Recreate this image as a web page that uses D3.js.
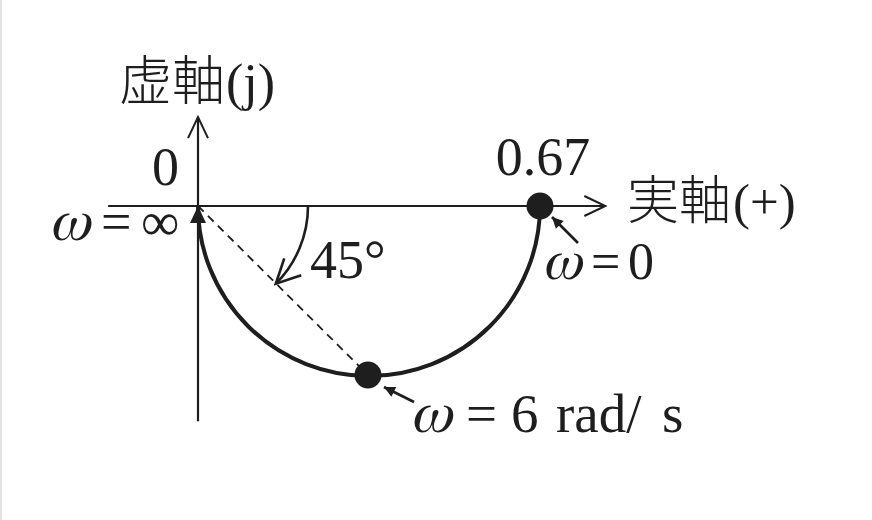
<!DOCTYPE html>
<html>
<head>
<meta charset="utf-8">
<script src="https://cdn.jsdelivr.net/npm/d3@7"></script>
<style>
  body { margin: 0; background: #fff; }
  text { fill: #1e1e1e; }
</style>
</head>
<body>
<svg id="chart" width="872" height="520"></svg>
<script>
let gainK = 0.67;                       // G(j0)
let realAxisExtent = [-0.176, 0.798];
let imagAxisExtent = [-0.424, 0.175];
let locusCenter = [0.335, 0];
let locusRadius = [0.335, 0.335];
let markerRe = [0.67, 0.333];
let markerIm = [0, -0.333];
let markerLabels = [["ω", "=", "0"], ["ω", "=", "6", "rad/", "s"]];
let originLabel = ["ω", "=", "∞"];
let phaseAngle = 45;                    // degrees
let tickLabels = ["0", "0.67"];
let axisTitles = [["虚軸", "(j)"], ["実軸", "(+)"]];

let serif = '"Liberation Serif", "Times New Roman", serif';
let mathItalic = '"FreeSerif", "Liberation Serif", serif';
let cjk = '"Noto Sans CJK JP", sans-serif';

let svg = d3.select("#chart");
let ink = "#1e1e1e";

let x = d3.scaleLinear().domain([0, gainK]).range([198, 540]);
let y = d3.scaleLinear().domain([0, -0.333]).range([206, 375]);

// faint scan edge on the left
svg.append("line").attr("x1", 1).attr("x2", 1).attr("y1", 0).attr("y2", 520)
  .attr("stroke", "#e4e4e4").attr("stroke-width", 2);

let defs = svg.append("defs");
function openArrow(id, len, half, w) {
  defs.append("marker")
    .attr("id", id)
    .attr("markerUnits", "userSpaceOnUse")
    .attr("viewBox", [-len - 4, -half - 4, len + 8, 2 * half + 8].join(" "))
    .attr("markerWidth", len + 8).attr("markerHeight", 2 * half + 8)
    .attr("refX", 0).attr("refY", 0)
    .attr("orient", "auto")
    .append("path")
    .attr("d", `M${-len},${-half} L0,0 L${-len},${half}`)
    .attr("fill", "none").attr("stroke", ink).attr("stroke-width", w);
}
function solidArrow(id, len, half) {
  defs.append("marker")
    .attr("id", id)
    .attr("markerUnits", "userSpaceOnUse")
    .attr("viewBox", [-len - 2, -half - 2, len + 4, 2 * half + 4].join(" "))
    .attr("markerWidth", len + 4).attr("markerHeight", 2 * half + 4)
    .attr("refX", 0).attr("refY", 0)
    .attr("orient", "auto")
    .append("path")
    .attr("d", `M${-len},${-half} L0,0 L${-len},${half} Z`)
    .attr("fill", ink);
}
openArrow("axisHead", 21, 10, 2);
openArrow("angleHead", 24, 12, 2.6);
solidArrow("locusHead", 17, 8);
solidArrow("noteHead", 11, 5.5);

// axes
svg.append("line")
  .attr("x1", x(realAxisExtent[0])).attr("x2", x(realAxisExtent[1]))
  .attr("y1", y(0)).attr("y2", y(0))
  .attr("stroke", ink).attr("stroke-width", 2.2)
  .attr("marker-end", "url(#axisHead)");
svg.append("line")
  .attr("x1", x(0)).attr("x2", x(0))
  .attr("y1", y(imagAxisExtent[0])).attr("y2", y(imagAxisExtent[1]))
  .attr("stroke", ink).attr("stroke-width", 2.2)
  .attr("marker-end", "url(#axisHead)");

// dashed line to the 45 degree point
svg.append("line")
  .attr("x1", x(0)).attr("y1", y(0))
  .attr("x2", x(markerRe[1])).attr("y2", y(markerIm[1]))
  .attr("stroke", ink).attr("stroke-width", 1.8)
  .attr("stroke-dasharray", "8,6");

// vector locus: semicircle from w=0 to w=inf
let rx = x(locusCenter[0] + locusRadius[0]) - x(locusCenter[0]);
let ry = y(locusCenter[1] - locusRadius[1]) - y(locusCenter[1]);
svg.append("path")
  .attr("d", `M${x(gainK)},${y(0)} A${rx},${ry} 0 0 1 ${x(0)},${y(0)}`)
  .attr("fill", "none").attr("stroke", ink).attr("stroke-width", 4)
  .attr("marker-end", "url(#locusHead)");

// 45 degree angle arc
let angR = 110;
let a = phaseAngle * Math.PI / 180;
svg.append("path")
  .attr("d", `M${x(0) + angR},${y(0)} A${angR},${angR} 0 0 1 ${x(0) + angR * Math.cos(a)},${y(0) + angR * Math.sin(a)}`)
  .attr("fill", "none").attr("stroke", ink).attr("stroke-width", 2.6)
  .attr("marker-end", "url(#angleHead)");

// marked points
svg.selectAll("circle.pt")
  .data(markerRe)
  .join("circle")
  .attr("class", "pt")
  .attr("cx", (d) => x(d))
  .attr("cy", (d, i) => y(markerIm[i]))
  .attr("r", 13.5)
  .attr("fill", ink);

// small pointer arrows to the points
let pointerOffsets = [[[38, 37], [12, 11]], [[46, 27], [16, 12]]];
markerRe.forEach(function(d, i) {
  let cx = x(d), cy = y(markerIm[i]);
  let o = pointerOffsets[i];
  svg.append("line")
    .attr("x1", cx + o[0][0]).attr("y1", cy + o[0][1])
    .attr("x2", cx + o[1][0]).attr("y2", cy + o[1][1])
    .attr("stroke", ink).attr("stroke-width", 2.6)
    .attr("marker-end", "url(#noteHead)");
});

// text helper: pieces with their own x, first piece is the italic omega
function label(parts, xs, baseline, size) {
  let t = svg.append("text").attr("font-family", serif).attr("y", baseline)
    .attr("font-size", size);
  parts.forEach(function(p, i) {
    let s = t.append("tspan").attr("x", xs[i]).text(p);
    if (i === 0) {
      s.attr("font-family", mathItalic).attr("font-style", "italic")
        .attr("font-size", size * 1.12);
    }
  });
  return t;
}

// tick labels
svg.append("text").attr("font-family", serif)
  .attr("x", x(0) - 19).attr("y", 185)
  .attr("text-anchor", "end").attr("font-size", 54)
  .text(tickLabels[0]);
svg.append("text").attr("font-family", serif)
  .attr("x", x(gainK) + 3).attr("y", 175)
  .attr("text-anchor", "middle").attr("font-size", 54)
  .text(tickLabels[1]);

// omega labels
label(originLabel, [52, 101, 141], 240, 54);
label(markerLabels[0], [545, 591, 628], 279, 52);
label(markerLabels[1], [413, 466, 511, 556, 662], 432, 55);

// angle label
svg.append("text").attr("font-family", serif)
  .attr("x", 310).attr("y", 278).attr("font-size", 54)
  .text(phaseAngle + "°");

// axis titles
function axisTitle(parts, x0, x1, baseline, size) {
  let t = svg.append("text").attr("y", baseline);
  t.append("tspan").attr("font-family", cjk).attr("font-weight", 300).attr("x", x0)
    .attr("font-size", size).text(parts[0]);
  t.append("tspan").attr("font-family", serif).attr("x", x1)
    .attr("font-size", size - 1).text(parts[1]);
}
axisTitle(axisTitles[0], 119, 226, 100, 53);
axisTitle(axisTitles[1], 627, 733, 219, 52);
</script>
</body>
</html>
